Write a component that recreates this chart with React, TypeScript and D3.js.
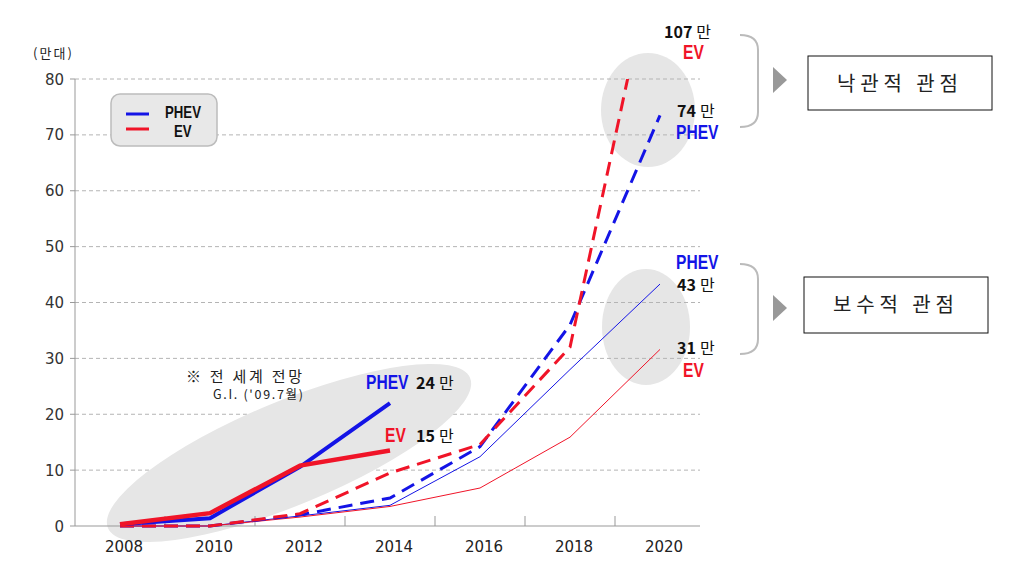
import React from 'react';
import * as d3 from 'd3';

// 연도 (x축)
const years = ['2008', '2010', '2012', '2014', '2016', '2018', '2020'];
const yTicks = [0, 10, 20, 30, 40, 50, 60, 70, 80];

// G.I.('09.7월) 전망 - 굵은 실선
const giPHEV = [0.3, 1.4, 10.6, 22];
const giEV = [0.3, 2.3, 10.8, 13.5];
// 낙관적 관점 - 점선
const optPHEV = [0, 0, 2, 5, 14.2, 36, 73.5];
const optEV = [0, 0, 2.2, 9.5, 14.6, 32, 107];
// 보수적 관점 - 가는 실선
const consPHEV = [0, 0, 1.8, 3.7, 12.4, 28, 43.3];
const consEV = [0, 0, 1.6, 3.5, 6.8, 15.9, 31.6];

const BLUE = '#1414e6';
const RED = '#f01428';
const KR = '"Noto Sans CJK KR", "Noto Sans", sans-serif';
const BOLD = '"Liberation Sans", Arial, sans-serif';

export default function App() {
  const width = 1017;
  const height = 570;

  const x = d3.scaleBand<string>().domain(years).range([75, 705]);
  const y = d3.scaleLinear().domain([0, 80]).range([526, 79]);
  const cx = (i: number) => (x(years[i]) as number) + x.bandwidth() / 2;

  const line = d3
    .line<number>()
    .x((_, i) => cx(i))
    .y((d) => y(d));

  const brace = (top: number, bottom: number) =>
    `M740,${top} Q758,${top} 758,${top + 15} L758,${bottom - 15} Q758,${bottom} 740,${bottom}`;
  const tri = (mid: number) => `M773,${mid - 13} L787,${mid} L773,${mid + 13} Z`;

  const amount = (tx: number, ty: number, num: string) => (
    <text x={tx} y={ty} fontFamily={KR} fontSize={16} fill="#111">
      <tspan fontWeight="bold">{num}</tspan>
      <tspan dx={4}>만</tspan>
    </text>
  );
  // condensed bold label (narrow font is not installed, so squeeze horizontally)
  const tag = (tx: number, ty: number, label: string, color: string, size = 19.5) => (
    <g transform={`translate(${tx},${ty}) scale(0.8,1)`}>
      <text fontFamily={BOLD} fontWeight="bold" fontSize={size} fill={color}>
        {label}
      </text>
    </g>
  );

  return (
    <svg
      width={width}
      height={height}
      style={{ position: 'absolute', left: 0, top: 0, background: '#fff' }}
    >
      <defs>
        <clipPath id="plot">
          <rect x={75} y={y(80)} width={640} height={y(0) - y(80) + 10} />
        </clipPath>
      </defs>

      {/* right ellipses (behind gridlines) */}
      <ellipse cx={648} cy={110} rx={47} ry={57} fill="#e6e6e6" />
      <ellipse cx={646} cy={327} rx={44} ry={58} fill="#e6e6e6" />

      {/* gridlines */}
      {yTicks.slice(1).map((t) => (
        <line
          key={t}
          x1={75}
          x2={700}
          y1={y(t)}
          y2={y(t)}
          stroke="#b4b4b4"
          strokeDasharray="4,3"
        />
      ))}

      {/* big ellipse */}
      <ellipse
        cx={289}
        cy={453}
        rx={196}
        ry={52}
        fill="#e6e6e6"
        transform="rotate(-22.5 289 453)"
      />

      {/* axes */}
      <line x1={75} x2={75} y1={y(80)} y2={y(0)} stroke="#999" />
      <line x1={75} x2={700} y1={y(0)} y2={y(0)} stroke="#999" />
      {yTicks.map((t) => (
        <g key={t}>
          <line x1={70} x2={75} y1={y(t)} y2={y(t)} stroke="#999" />
          <text
            x={64}
            y={y(t) + 5.5}
            textAnchor="end"
            fontFamily='"DejaVu Sans", sans-serif'
            fontSize={15}
            fill="#333"
          >
            {t}
          </text>
        </g>
      ))}
      {years.slice(1).map((yr) => (
        <line
          key={yr}
          x1={x(yr) as number}
          x2={x(yr) as number}
          y1={y(0)}
          y2={y(0) - 10}
          stroke="#999"
        />
      ))}
      {years.map((yr, i) => (
        <text
          key={yr}
          x={cx(i) + 4}
          y={552}
          textAnchor="middle"
          fontFamily='"DejaVu Sans", sans-serif'
          fontSize={15}
          fill="#222"
        >
          {yr}
        </text>
      ))}
      <text x={33} y={58} fontFamily={KR} fontSize={13} fill="#222" textLength={39}>
        (만대)
      </text>

      {/* conservative (thin) */}
      <path d={line(consPHEV) as string} fill="none" stroke={BLUE} strokeWidth={1} />
      <path d={line(consEV) as string} fill="none" stroke={RED} strokeWidth={1} />

      {/* optimistic (dashed) */}
      <g clipPath="url(#plot)">
        <path
          d={line(optPHEV) as string}
          fill="none"
          stroke={BLUE}
          strokeWidth={3}
          strokeDasharray="14,8"
        />
        <path
          d={line(optEV) as string}
          fill="none"
          stroke={RED}
          strokeWidth={3}
          strokeDasharray="14,8"
        />
      </g>

      {/* G.I. forecast (thick) */}
      <path d={line(giPHEV) as string} fill="none" stroke={BLUE} strokeWidth={4} />
      <path d={line(giEV) as string} fill="none" stroke={RED} strokeWidth={4.5} />

      {/* legend */}
      <rect x={111} y={94} width={106} height={52} rx={9} fill="#e8e8e8" stroke="#bcbcbc" strokeWidth={1.5} />
      <line x1={126} x2={149} y1={114} y2={114} stroke={BLUE} strokeWidth={3} />
      <line x1={126} x2={149} y1={129} y2={129} stroke={RED} strokeWidth={3} />
      {tag(165, 118, 'PHEV', '#111', 16.5)}
      {tag(174, 137, 'EV', '#111', 16.5)}

      {/* notes */}
      <text x={186} y={382} fontFamily={KR} fontSize={15} fill="#222" textLength={116}>
        ※ 전 세계 전망
      </text>
      <text x={213} y={399} fontFamily={KR} fontSize={12.5} fill="#222" textLength={90}>
        G.I. ('09.7월)
      </text>
      {tag(366, 389, 'PHEV', BLUE)}
      {amount(416, 389, '24')}
      {tag(385, 442, 'EV', RED)}
      {amount(416, 442, '15')}

      {amount(664, 38, '107')}
      {tag(683, 59, 'EV', RED)}
      {amount(677, 117, '74')}
      {tag(676, 139, 'PHEV', BLUE)}
      {tag(676, 269, 'PHEV', BLUE)}
      {amount(677, 291, '43')}
      {amount(677, 354, '31')}
      {tag(683, 377, 'EV', RED)}

      {/* braces, arrows, boxes */}
      <path d={brace(35, 127)} fill="none" stroke="#bbb" strokeWidth={2} />
      <path d={brace(264, 354)} fill="none" stroke="#bbb" strokeWidth={2} />
      <path d={tri(80)} fill="#999" />
      <path d={tri(308)} fill="#999" />
      <rect x={808} y={56} width={184} height={54} fill="#fff" stroke="#111" />
      <rect x={804} y={277} width={184} height={56} fill="#fff" stroke="#111" />
      <text x={837} y={91} fontFamily={KR} fontSize={20} fill="#222" textLength={121}>
        낙관적 관점
      </text>
      <text x={833} y={312} fontFamily={KR} fontSize={20} fill="#222" textLength={121}>
        보수적 관점
      </text>
    </svg>
  );
}
